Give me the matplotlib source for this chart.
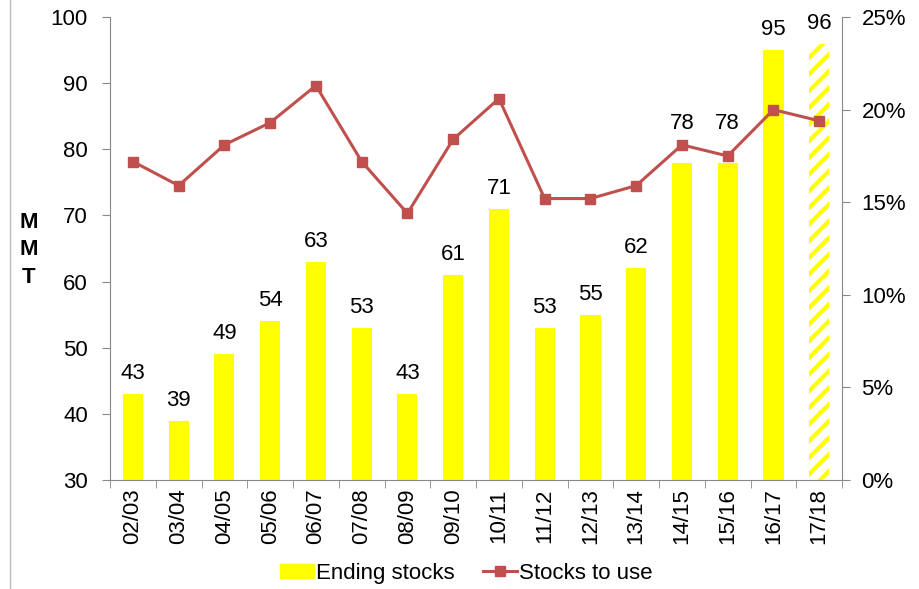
import numpy as np
import matplotlib.pyplot as plt
from matplotlib.patches import Patch, Rectangle
from matplotlib.lines import Line2D
from matplotlib.ticker import PercentFormatter

plt.rcParams['font.family'] = ['Liberation Sans', 'DejaVu Sans']
plt.rcParams['hatch.linewidth'] = 3.0

seasons = ['02/03', '03/04', '04/05', '05/06', '06/07', '07/08', '08/09', '09/10',
           '10/11', '11/12', '12/13', '13/14', '14/15', '15/16', '16/17', '17/18']
ending_stocks = [43, 39, 49, 54, 63, 53, 43, 61, 71, 53, 55, 62, 78, 78, 95, 96]
stocks_to_use = [17.2, 15.9, 18.1, 19.3, 21.3, 17.2, 14.4, 18.4,
                 20.6, 15.2, 15.2, 15.9, 18.1, 17.5, 20.0, 19.4]

yellow = '#FFFF00'
red = '#C0504D'
fs = 16

fig = plt.figure(figsize=(9.2, 5.89), dpi=100)
ax = fig.add_axes([0.1196, 0.185, 0.7957, 0.786])
x = np.arange(len(seasons))

ax.bar(x[:-1], ending_stocks[:-1], width=0.44, color=yellow)
ax.bar(x[-1], ending_stocks[-1], width=0.44, color='white', edgecolor=yellow,
       hatch='//', linewidth=0)
# labels of 14/15 and 15/16 sit higher to clear the line
lift = [1.5] * len(seasons)
lift[12] = lift[13] = 4.3
for xi, v, d in zip(x, ending_stocks, lift):
    ax.text(xi, v + d, str(v), ha='center', va='bottom', fontsize=fs)

ax.set_ylim(30, 100)
ax.set_xlim(-0.5, len(seasons) - 0.5)
ax.set_yticks(range(30, 101, 10))
ax.set_xticks(x)
ax.set_xticklabels(seasons, rotation=90, fontsize=fs)
ax.set_xticks(np.arange(-0.5, len(seasons)), minor=True)
ax.tick_params(axis='x', which='major', length=0, pad=6)
ax.tick_params(axis='x', which='minor', length=6, color='#888888')
ax.tick_params(axis='y', labelsize=fs, length=6, color='#888888', pad=10)
for s in ['top', 'right']:
    ax.spines[s].set_visible(False)
for s in ['left', 'bottom']:
    ax.spines[s].set_color('#888888')

ax2 = ax.twinx()
ax2.plot(x, stocks_to_use, color=red, linewidth=2.2, marker='s', markersize=6.5)
ax2.set_ylim(0, 25)
ax2.yaxis.set_major_formatter(PercentFormatter(decimals=0))
ax2.set_yticks(range(0, 26, 5))
ax2.tick_params(axis='y', labelsize=fs, length=6, color='#888888', pad=8)
for s in ['top', 'left', 'bottom']:
    ax2.spines[s].set_visible(False)
ax2.spines['right'].set_color('#888888')

fig.text(0.031, 0.576, 'M\nM\nT', fontsize=fs, fontweight='bold', ha='center',
         va='center', linespacing=1.4)

handles = [Patch(color=yellow),
           Line2D([], [], color=red, linewidth=2.2, marker='s', markersize=6.5)]
fig.legend(handles, ['Ending stocks', 'Stocks to use'], loc='lower center',
           bbox_to_anchor=(0.507, -0.025), ncol=2, frameon=False, fontsize=fs,
           handlelength=1.5, handleheight=0.6, handletextpad=0.1, columnspacing=1.3)

fig.patches.append(Rectangle((0.011, -0.01), 1.2, 1.2, transform=fig.transFigure,
                             fill=False, edgecolor='#BBBBBB', linewidth=1))

fig.savefig('out.png', dpi=100)
